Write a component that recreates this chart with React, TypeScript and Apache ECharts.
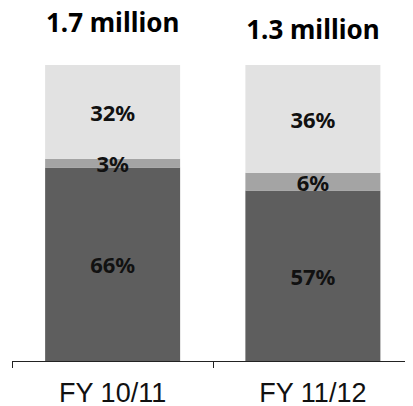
import React, { useEffect, useRef } from "react";
import * as echarts from "echarts";

const categories = ["FY 10/11", "FY 11/12"];
const totals = ["1.7 million", "1.3 million"];
const bottomShare = [66, 57];
const middleShare = [3, 6];
const topShare = [32, 36];

export default function App() {
  const ref = useRef<HTMLDivElement>(null);
  useEffect(() => {
    if (!ref.current) return;
    const chart = echarts.init(ref.current, null, { renderer: "svg" });
    const sums = categories.map((_, i) => bottomShare[i] + middleShare[i] + topShare[i]);
    const norm = (arr: number[]) =>
      arr.map((v, i) => ({ value: (v / sums[i]) * 100, raw: v }));
    const pctLabel = {
      show: true,
      position: "inside",
      formatter: (p: any) => p.data.raw + "%",
      fontFamily: "Noto Sans",
      fontWeight: "bold",
      fontSize: 22,
      color: "#111",
    };
    const totalOffsets = [[0, -25], [0, -18]];
    chart.setOption({
      animation: false,
      grid: { left: 12.5, right: -4.5, top: 65, bottom: 43 },
      xAxis: {
        type: "category",
        data: categories,
        axisLine: { show: true, lineStyle: { color: "#222", width: 1 } },
        axisTick: { show: true, length: 7, lineStyle: { color: "#222" } },
        axisLabel: {
          fontFamily: "Liberation Sans",
          fontSize: 27,
          color: "#111",
          margin: 18,
        },
      },
      yAxis: { type: "value", min: 0, max: 100.001, show: false },
      series: [
        {
          type: "bar",
          stack: "s",
          barWidth: 135,
          data: norm(bottomShare),
          itemStyle: { color: "#5e5e5e" },
          label: pctLabel,
        },
        {
          type: "bar",
          stack: "s",
          data: norm(middleShare),
          itemStyle: { color: "#a4a4a4" },
          label: pctLabel,
        },
        {
          type: "bar",
          stack: "s",
          data: norm(topShare),
          itemStyle: { color: "#e2e2e2" },
          label: pctLabel,
        },
        {
          type: "bar",
          stack: "s",
          clip: false,
          data: totals.map((t, i) => ({
            value: 0,
            label: { offset: totalOffsets[i] },
          })),
          itemStyle: { color: "transparent" },
          label: {
            show: true,
            position: "top",
            formatter: (p: any) => totals[p.dataIndex],
            fontFamily: "Noto Sans",
            fontWeight: "bold",
            fontSize: 26,
            color: "#000",
          },
        },
      ],
    });
    return () => chart.dispose();
  }, []);
  return <div ref={ref} style={{ width: 413, height: 406, marginLeft: -8, marginTop: -8 }} />;
}
